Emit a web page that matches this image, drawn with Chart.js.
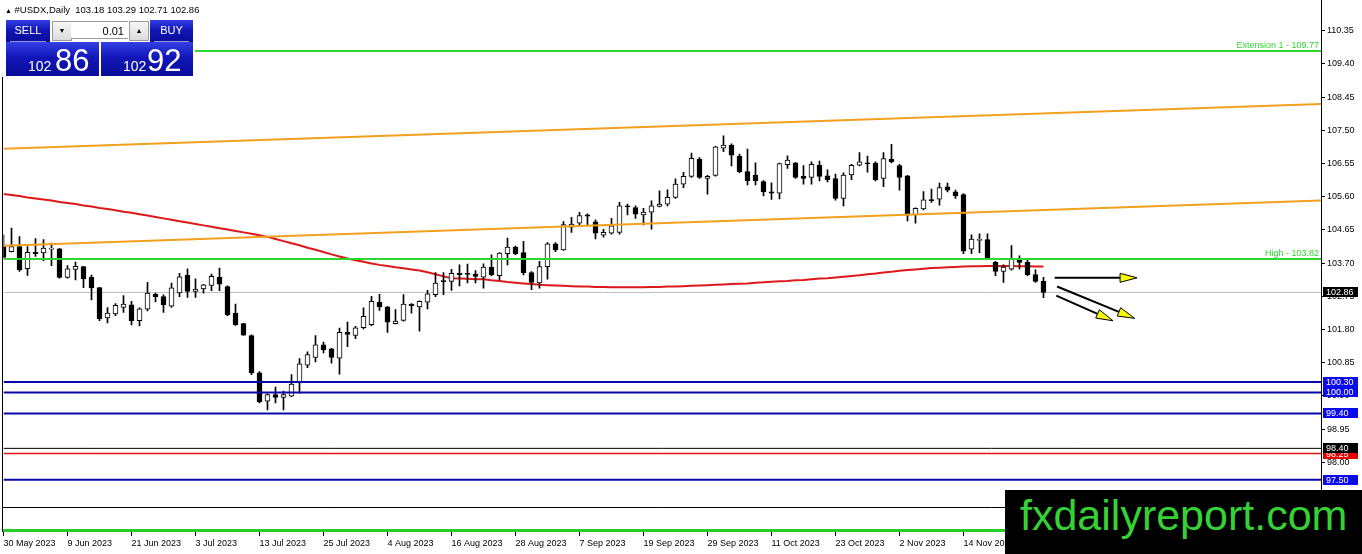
<!DOCTYPE html>
<html>
<head>
<meta charset="utf-8">
<script src="https://cdn.jsdelivr.net/npm/chart.js@4.4.0/dist/chart.umd.min.js"></script>
<style>
html,body{margin:0;padding:0;background:#fff;}
#wrap{position:relative;width:1362px;height:554px;overflow:hidden;font-family:"Liberation Sans",Arial,sans-serif;}
#c{position:absolute;left:0;top:0;}
#panel{position:absolute;left:0;top:0;width:195px;height:77px;background:#fff;}
#hdr{position:absolute;left:5px;top:5px;font-size:9.5px;line-height:1;color:#000;white-space:pre;}
#hdr .tri{font-size:7px;}
.blue{position:absolute;background:linear-gradient(#3340e4,#1216b8 45%,#0a0c98);color:#fff;}
.lbl{font-size:11px;line-height:21px;text-align:center;}
.lbl:after{content:"";position:absolute;left:4px;right:4px;bottom:0;height:1px;background:rgba(200,210,255,0.7);}
.gbtn{position:absolute;top:21px;width:18px;height:18px;background:linear-gradient(#f6f6f6,#dcdcdc);border:1px solid #9a9a9a;font-size:7px;line-height:18px;text-align:center;color:#000;}
#lot{position:absolute;left:71px;top:21px;width:57px;height:18px;background:#fff;border:1px solid #9a9a9a;border-left:none;border-right:none;font-size:11px;line-height:18px;text-align:right;box-sizing:border-box;padding-right:4px;color:#000;}
.small{position:absolute;font-size:14px;line-height:1;color:#fff;}
.big{position:absolute;font-size:31px;line-height:1;color:#fff;}
#wm{position:absolute;left:1005px;top:490px;width:357px;height:64px;background:#000;}
#wm span{position:absolute;left:15px;top:4px;font-size:43px;line-height:1;color:#35d235;font-family:"Liberation Sans",Arial,sans-serif;white-space:nowrap;}
</style>
</head>
<body>
<div id="wrap">
  <canvas id="c" width="1362" height="554"></canvas>
  <div id="panel">
    <div id="hdr"></div>
    <div class="blue lbl" style="left:6px;top:20px;width:44px;height:22px;">SELL</div>
    <div class="gbtn" style="left:52px;">&#9660;</div>
    <div id="lot">0.01</div>
    <div class="gbtn" style="left:129px;">&#9650;</div>
    <div class="blue lbl" style="left:150px;top:20px;width:43px;height:22px;">BUY</div>
    <div class="blue" style="left:6px;top:42px;width:93px;height:34px;"></div>
    <div class="blue" style="left:101px;top:42px;width:92px;height:34px;"></div>
    <div class="small" id="sellA" style="left:28px;top:59px;"></div>
    <div class="big" id="sellB" style="left:55px;top:45px;"></div>
    <div class="small" id="buyA" style="left:123px;top:59px;"></div>
    <div class="big" id="buyB" style="left:147px;top:45px;"></div>
  </div>
  <div id="wm"><span>fxdailyreport.com</span></div>
</div>
<script>
// ---------- data ----------
const symbolName = '#USDX,Daily';
const dateLabels = ['30 May 2023','9 Jun 2023','21 Jun 2023','3 Jul 2023','13 Jul 2023','25 Jul 2023','4 Aug 2023','16 Aug 2023','28 Aug 2023','7 Sep 2023','19 Sep 2023','29 Sep 2023','11 Oct 2023','23 Oct 2023','2 Nov 2023','14 Nov 2023'];
const barsPerLabel = 8;

const opens = [104.17,104.03,104.17,103.54,104.01,103.99,104.10,104.11,103.29,103.52,
103.60,103.29,103.00,102.13,102.25,102.43,102.51,102.05,102.38,102.81,
102.74,102.47,102.85,103.35,102.89,102.96,103.06,103.29,103.03,102.27,
101.97,101.63,100.56,99.75,99.94,99.86,99.89,100.27,100.78,101.00,
101.36,101.25,100.98,101.72,101.63,101.85,101.94,102.58,102.45,101.97,
102.06,102.53,102.45,102.58,102.80,103.20,103.18,103.41,103.41,103.39,
103.30,103.59,103.34,103.97,104.16,104.00,103.43,103.13,103.60,104.25,
104.08,104.73,104.84,105.08,104.88,104.50,104.56,104.58,105.34,105.29,
105.08,105.16,105.32,105.39,105.58,105.96,106.18,106.68,106.12,106.21,
106.99,107.08,106.76,106.32,106.22,106.03,105.74,105.70,106.52,106.57,
106.18,106.15,106.50,106.20,106.12,105.55,106.22,106.50,106.57,106.56,
106.12,106.67,106.49,106.20,105.08,105.25,105.51,105.53,105.88,105.74,
105.66,104.10,104.35,104.37,103.72,103.46,103.53,103.84,103.72,103.37,
103.18];
const highs = [104.51,104.70,104.46,104.17,104.40,104.37,104.27,104.12,103.63,103.73,
103.61,103.36,103.01,102.43,102.54,102.77,102.61,102.42,103.15,102.84,
102.79,103.13,103.41,103.54,103.25,103.09,103.39,103.56,103.05,102.53,
101.98,101.65,100.60,99.96,100.15,100.04,100.51,100.97,101.16,101.63,
101.44,101.26,101.84,102.01,101.89,102.42,102.75,102.81,102.46,102.37,
102.80,102.54,102.62,102.92,103.43,103.43,103.52,103.65,103.67,103.49,
103.68,103.94,104.00,104.42,104.19,104.32,103.46,103.75,104.29,104.29,
104.89,105.01,105.15,105.11,104.94,104.67,104.98,105.44,105.39,105.34,
105.27,105.48,105.77,105.80,106.11,106.30,106.85,106.72,106.21,107.04,
107.34,107.11,106.82,106.96,106.57,106.06,106.00,106.56,106.77,106.58,
106.49,106.60,106.62,106.37,106.25,106.28,106.53,106.86,106.76,106.60,
106.86,107.10,106.53,106.21,105.28,105.75,105.82,105.99,105.99,105.79,
105.69,104.51,104.54,104.54,103.75,103.65,104.20,103.91,103.79,103.51,
103.29];
const lows = [103.85,104.02,103.46,103.35,103.89,103.77,103.63,103.27,103.27,103.22,
103.00,102.65,102.05,101.99,102.20,102.29,101.93,101.90,102.33,102.59,
102.29,102.43,102.74,102.72,102.72,102.84,102.91,102.91,102.20,101.92,
101.63,100.51,99.70,99.50,99.70,99.50,99.88,99.98,100.71,100.87,
101.13,100.84,100.52,101.31,101.54,101.82,101.91,102.35,101.72,101.96,
102.04,102.27,101.75,102.39,102.74,102.80,102.92,103.05,103.13,103.13,
102.98,103.34,103.22,103.65,103.94,103.36,102.94,102.98,103.24,104.03,
104.06,104.58,104.77,104.77,104.39,104.44,104.53,104.53,105.08,104.98,
104.79,104.67,105.31,105.34,105.55,105.86,106.15,106.12,105.67,106.19,
106.89,106.48,106.29,105.94,105.94,105.62,105.52,105.54,106.41,106.12,
105.96,105.96,106.05,106.02,105.50,105.34,106.09,106.48,106.30,106.05,
105.89,106.57,105.79,104.91,104.84,105.22,105.44,105.36,105.74,105.55,
103.97,103.97,104.00,103.80,103.34,103.15,103.50,103.53,103.34,103.15,
102.71];
const closes = [103.86,104.17,103.51,104.01,103.97,104.13,104.12,103.29,103.54,103.61,
103.25,102.99,102.11,102.27,102.49,102.53,102.05,102.39,102.84,102.74,
102.51,102.99,103.31,102.89,102.96,103.08,103.32,103.10,102.22,101.94,
101.64,100.56,99.73,99.94,99.86,99.94,100.24,100.82,101.08,101.36,
101.22,101.00,101.72,101.66,101.85,102.18,102.61,102.45,102.01,102.04,
102.53,102.48,102.61,102.82,103.13,103.17,103.41,103.37,103.38,103.32,
103.59,103.37,103.99,104.16,103.97,103.43,103.15,103.60,104.25,104.08,
104.80,104.82,105.06,105.04,104.56,104.58,104.77,105.34,105.31,105.10,
105.16,105.34,105.39,105.58,105.96,106.18,106.70,106.15,106.18,107.03,
107.08,106.79,106.32,106.06,106.06,105.74,105.70,106.55,106.65,106.15,
106.12,106.53,106.18,106.09,105.55,106.22,106.50,106.60,106.54,106.09,
106.69,106.60,106.15,105.07,105.27,105.51,105.49,105.86,105.79,105.62,
104.04,104.39,104.37,103.81,103.46,103.59,103.81,103.72,103.37,103.18,
102.86];
const maValues = [105.68,105.65,105.62,105.58,105.55,105.52,105.49,105.45,105.42,105.39,
105.35,105.32,105.28,105.25,105.21,105.17,105.14,105.10,105.06,105.02,
104.98,104.94,104.90,104.86,104.82,104.78,104.74,104.70,104.66,104.62,
104.58,104.54,104.50,104.45,104.39,104.33,104.27,104.21,104.14,104.08,
104.02,103.95,103.89,103.83,103.78,103.74,103.69,103.65,103.62,103.58,
103.55,103.52,103.49,103.44,103.38,103.32,103.27,103.26,103.25,103.24,
103.24,103.21,103.19,103.16,103.14,103.12,103.10,103.08,103.07,103.06,
103.05,103.04,103.03,103.03,103.02,103.02,103.01,103.01,103.01,103.01,
103.01,103.02,103.02,103.03,103.03,103.04,103.05,103.06,103.07,103.08,
103.09,103.10,103.11,103.12,103.14,103.15,103.17,103.18,103.19,103.21,
103.22,103.24,103.26,103.27,103.29,103.31,103.33,103.35,103.38,103.40,
103.43,103.45,103.48,103.50,103.52,103.54,103.56,103.57,103.58,103.59,
103.60,103.61,103.61,103.62,103.62,103.62,103.62,103.61,103.61,103.60,
103.60];

const yTickValues = [97.05,98.00,98.95,99.90,100.85,101.80,102.75,103.70,104.65,105.60,106.55,107.50,108.45,109.40,110.35];
const priceMin = 96.007, priceMax = 111.171;
const barMax = 164.69;

const channelUpper = [106.97, 108.25];
const channelLower = [104.20, 105.49];
const greenLevels = [109.77, 103.82];
const greenLevelNames = ['Extension 1 - 109.77', 'High - 103.82'];
const blueLevels = [100.30, 100.00, 99.40, 97.50];
const blackLevel = 98.40;
const redLevel = 98.25;
const bidPrice = 102.86;
const askPrice = 102.92;
const lotSize = '0.01';

const arrowFromBar = [131.4, 131.7, 131.6];
const arrowFromPrice = [103.28, 103.03, 102.77];
const arrowToBar = [141.7, 141.4, 138.7];
const arrowToPrice = [103.28, 102.12, 102.05];

// ---------- panel text ----------
const last = closes.length - 1;
document.getElementById('hdr').innerHTML = '<span class="tri">&#9650;</span> ' + symbolName + '  ' +
  [opens[last], highs[last], lows[last], closes[last]].map(v => v.toFixed(2)).join(' ');
const split = v => { const s = v.toFixed(2).split('.'); return [s[0], s[1]]; };
document.getElementById('sellA').textContent = split(bidPrice)[0];
document.getElementById('sellB').textContent = split(bidPrice)[1];
document.getElementById('buyA').textContent = split(askPrice)[0];
document.getElementById('buyB').textContent = split(askPrice)[1];
document.getElementById('lot').textContent = lotSize;

// ---------- datasets ----------
const wickData = opens.map((o, i) => ({x: i, y: [lows[i], highs[i]]}));
const bodyData = opens.map((o, i) => ({x: i, y: [o, closes[i]]}));
const bodyColors = opens.map((o, i) => closes[i] >= o ? '#ffffff' : '#000000');
const maData = maValues.map((v, i) => ({x: i, y: v}));
const hline = (p) => [{x: 0, y: p}, {x: barMax, y: p}];
const lineDs = (data, color, width, order) => ({type: 'line', data, borderColor: color, borderWidth: width,
  pointRadius: 0, fill: false, tension: 0, order});

const GREEN = 'rgb(48,214,48)';
const datasets = [
  lineDs(hline(bidPrice), '#c0c0c0', 1, 20),
  lineDs(maData, 'rgb(222,24,24)', 2, 15),
  {type: 'bar', data: wickData, backgroundColor: '#000', borderWidth: 0, barThickness: 1, grouped: false, minBarLength: 1, order: 11},
  {type: 'bar', data: bodyData, backgroundColor: bodyColors, borderColor: '#000', borderWidth: 1, borderSkipped: false,
    barThickness: 5, grouped: false, minBarLength: 1, order: 10},
  lineDs([{x: 0, y: channelUpper[0]}, {x: barMax, y: channelUpper[1]}], 'rgb(242,160,30)', 2, 6),
  lineDs([{x: 0, y: channelLower[0]}, {x: barMax, y: channelLower[1]}], 'rgb(242,160,30)', 2, 6),
  ...greenLevels.map(p => lineDs(hline(p), GREEN, 2, 5)),
  ...blueLevels.map(p => lineDs(hline(p), 'rgb(8,8,170)', 2, 5)),
  lineDs(hline(blackLevel), '#000', 1, 5),
  lineDs(hline(redLevel), 'rgb(230,20,20)', 1.5, 5)
];

// ---------- overlay plugin ----------
const overlay = {
  id: 'overlay',
  afterDatasetsDraw(chart) {
    const {ctx, chartArea: a, scales: {x, y}} = chart;
    const seg = (x1, y1, x2, y2) => { ctx.beginPath(); ctx.moveTo(x1, y1); ctx.lineTo(x2, y2); ctx.stroke(); };
    ctx.save();
    // indicator sub-window
    const sepY = Math.round(a.bottom - 25) + 0.5;
    ctx.fillStyle = '#fff';
    ctx.fillRect(a.left - 1, sepY, a.right - a.left + 1, a.bottom - sepY);
    ctx.strokeStyle = '#000'; ctx.lineWidth = 1;
    seg(a.left - 1, sepY, a.right, sepY);
    ctx.strokeStyle = 'rgb(40,205,40)'; ctx.lineWidth = 3;
    seg(a.left - 1, a.bottom - 1.5, a.right, a.bottom - 1.5);
    // frame
    ctx.strokeStyle = '#000'; ctx.lineWidth = 1;
    seg(2.5, a.top, 2.5, a.bottom);
    seg(a.right + 0.5, 0, a.right + 0.5, a.top + 1);
    // level captions
    ctx.fillStyle = GREEN;
    ctx.font = '9px "Liberation Sans", Arial, sans-serif';
    ctx.textAlign = 'right'; ctx.textBaseline = 'alphabetic';
    greenLevels.forEach((p, k) => ctx.fillText(greenLevelNames[k], a.right - 2, y.getPixelForValue(p) - 3));
    // arrows
    for (let k = 0; k < arrowFromBar.length; k++) {
      const x1 = x.getPixelForValue(arrowFromBar[k]), y1 = y.getPixelForValue(arrowFromPrice[k]);
      const x2 = x.getPixelForValue(arrowToBar[k]), y2 = y.getPixelForValue(arrowToPrice[k]);
      const len = Math.hypot(x2 - x1, y2 - y1), ux = (x2 - x1) / len, uy = (y2 - y1) / len;
      const hl = 17, hw = 4.5;
      const bx = x2 - ux * hl, by = y2 - uy * hl;
      ctx.strokeStyle = '#000'; ctx.lineWidth = 2;
      seg(x1, y1, bx, by);
      ctx.beginPath();
      ctx.moveTo(x2, y2);
      ctx.lineTo(bx - uy * hw, by + ux * hw);
      ctx.lineTo(bx + uy * hw, by - ux * hw);
      ctx.closePath();
      ctx.fillStyle = 'rgb(250,250,0)'; ctx.fill();
      ctx.lineWidth = 1; ctx.strokeStyle = '#000'; ctx.stroke();
    }
    ctx.restore();
  },
  afterDraw(chart) {
    const {ctx, chartArea: a, scales: {y}} = chart;
    ctx.save();
    ctx.font = '9px "Liberation Sans", Arial, sans-serif';
    ctx.textAlign = 'left'; ctx.textBaseline = 'middle';
    const box = (p, bg) => {
      const py = y.getPixelForValue(p);
      ctx.fillStyle = bg;
      ctx.fillRect(a.right + 2, Math.round(py) - 5, 35, 10);
      ctx.fillStyle = '#fff';
      ctx.fillText(p.toFixed(2), a.right + 5, py + 0.5);
    };
    box(bidPrice, '#000');
    blueLevels.forEach(p => box(p, 'rgb(10,10,235)'));
    box(redLevel, 'rgb(230,0,0)');
    box(blackLevel, '#000');
    ctx.restore();
  }
};

new Chart(document.getElementById('c'), {
  type: 'bar',
  data: {datasets},
  options: {
    responsive: false,
    animation: false,
    events: [],
    layout: {padding: {left: 3.5, top: 2, right: 0, bottom: 0}},
    plugins: {legend: {display: false}, tooltip: {enabled: false}},
    scales: {
      x: {
        type: 'linear', min: 0, max: barMax, offset: false,
        afterFit(s) { s.height = 22; s.paddingLeft = 0; s.paddingRight = 0; },
        afterBuildTicks(s) { s.ticks = dateLabels.map((_, k) => ({value: k * barsPerLabel})); },
        ticks: {
          callback: v => dateLabels[Math.round(v / barsPerLabel)],
          align: 'start', maxRotation: 0, minRotation: 0, autoSkip: false, padding: 2,
          color: '#000', font: {family: '"Liberation Sans", Arial, sans-serif', size: 9}
        },
        grid: {display: true, drawOnChartArea: false, offset: false, tickLength: 4, color: '#000'},
        border: {display: false}
      },
      y: {
        type: 'linear', position: 'right', min: priceMin, max: priceMax, beginAtZero: false,
        afterFit(s) { s.width = 41; s.paddingTop = 0; s.paddingBottom = 0; },
        afterBuildTicks(s) { s.ticks = yTickValues.map(v => ({value: v})); },
        ticks: {
          callback: v => Number(v).toFixed(2), autoSkip: false, padding: 2,
          color: '#000', font: {family: '"Liberation Sans", Arial, sans-serif', size: 9}
        },
        grid: {display: true, drawOnChartArea: false, tickLength: 4, color: '#000'},
        border: {display: true, color: '#000', width: 1}
      }
    }
  },
  plugins: [overlay]
});
</script>
</body>
</html>
